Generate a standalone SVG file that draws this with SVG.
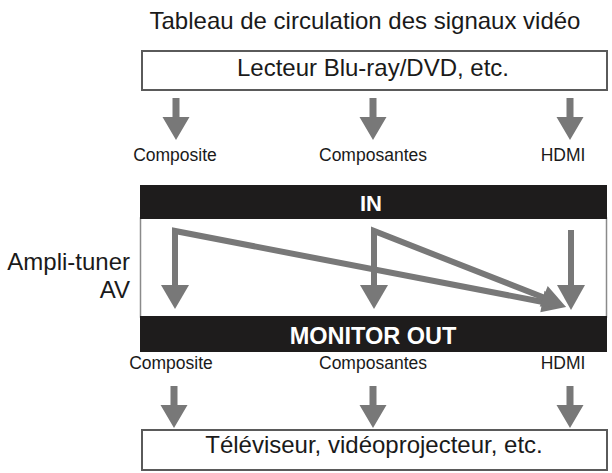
<svg xmlns="http://www.w3.org/2000/svg" width="612" height="473" viewBox="0 0 612 473">
<style>
text{font-family:"Liberation Sans",Arial,sans-serif;fill:#1a1a1a}
.big{font-size:24px}
.lbl{font-size:17.5px}
.band{fill:#1e1c1c}
.bandtxt{font-weight:bold;fill:#fff}
.box{fill:#fff;stroke:#5a5a5a;stroke-width:2}
.flow{fill:none;stroke:#787878;stroke-width:6;stroke-linejoin:miter}
.head{fill:#787878}
</style>
<defs>
<path id="shortArrow" d="M-3.5,0 H3.5 V19 H13.5 L0,42 L-13.5,19 H-3.5 Z" fill="#787878"/>
</defs>
<rect width="612" height="473" fill="#fff"/>
<text id="title" class="big" x="365" y="29" text-anchor="middle" font-size="24.3">Tableau de circulation des signaux vidéo</text>
<g id="node-source">
<rect class="box" x="142" y="51" width="465" height="39"/>
<text class="big" x="373" y="76" text-anchor="middle">Lecteur Blu-ray/DVD, etc.</text>
</g>
<g id="labels-top">
<text class="lbl" x="175" y="161" text-anchor="middle">Composite</text>
<text class="lbl" x="373" y="161" text-anchor="middle">Composantes</text>
<text class="lbl" x="563" y="161" text-anchor="middle">HDMI</text>
</g>
<g id="node-ampli">
<text class="big" x="130" y="270" text-anchor="end">Ampli-tuner</text>
<text class="big" x="130" y="298" text-anchor="end">AV</text>
<rect x="140.5" y="218" width="466" height="99" fill="#fff" stroke="#8a8a8a" stroke-width="1.5"/>
<rect class="band" x="140" y="185" width="467" height="34"/>
<text class="bandtxt" x="371" y="211" font-size="22" text-anchor="middle">IN</text>
<rect class="band" x="140" y="316" width="467" height="36"/>
<text class="bandtxt" x="373" y="344" font-size="23.5" text-anchor="middle">MONITOR OUT</text>
</g>
<g id="labels-bottom">
<text class="lbl" x="171" y="369" text-anchor="middle">Composite</text>
<text class="lbl" x="373" y="369" text-anchor="middle">Composantes</text>
<text class="lbl" x="563" y="369" text-anchor="middle">HDMI</text>
</g>
<g id="node-display">
<rect class="box" x="142" y="430" width="465" height="40"/>
<text class="big" x="374" y="453" text-anchor="middle">Téléviseur, vidéoprojecteur, etc.</text>
</g>
<g id="connectors">
<use href="#shortArrow" x="176" y="98"/>
<use href="#shortArrow" x="373" y="98"/>
<use href="#shortArrow" x="570" y="98"/>
<use href="#shortArrow" x="174" y="386"/>
<use href="#shortArrow" x="373" y="386"/>
<use href="#shortArrow" x="570" y="386"/>
<path class="flow" d="M175,286 V231 L543,302"/>
<path class="head" d="M175,309 L161,285 L189,285 Z"/>
<path class="flow" d="M374,286 V231 L545,298"/>
<path class="head" d="M374,309 L360,285 L388,285 Z"/>
<path class="flow" d="M571,230 V286"/>
<path class="head" d="M571,310 L557,285 L585,285 Z"/>
<path class="head" d="M566,307 L544.5,290.7 L540.3,312.3 Z"/>
<path class="head" d="M566,307 L547.7,286 L539.7,306.4 Z"/>
</g>
</svg>
